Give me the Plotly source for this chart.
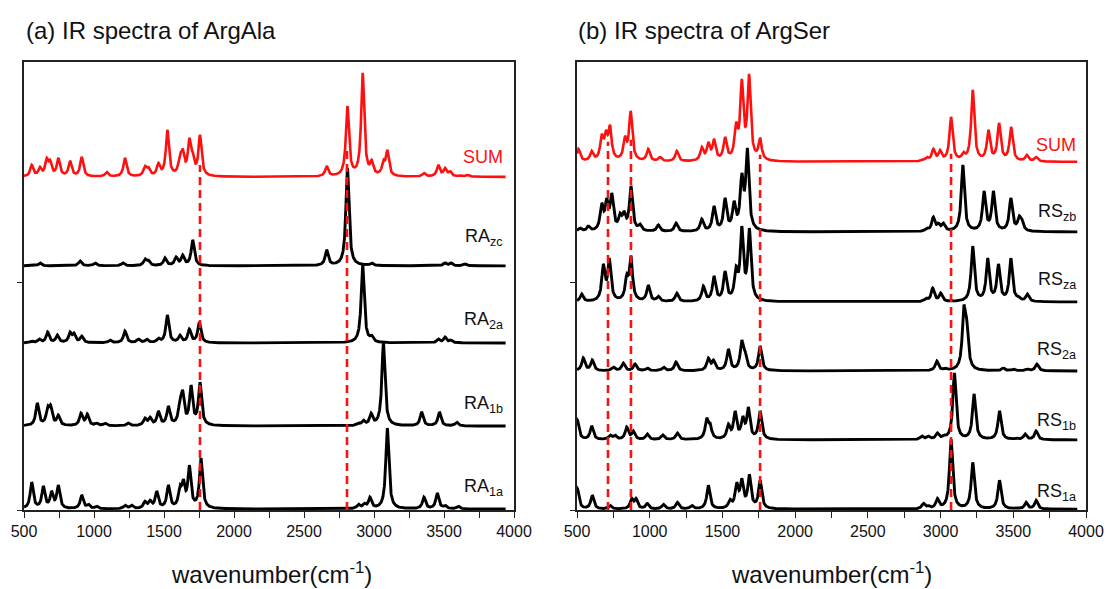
import numpy as np
import plotly.graph_objects as go

# ---------------- data ----------------
# Peak lists: wavenumber (cm-1) and peak height (a.u., 227.5 a.u. = one y tick)
# ArgAla panel
ala_sum_pos = [555, 614, 662, 686, 745, 829, 912, 1090, 1221, 1364, 1388, 1460, 1524, 1614, 1634, 1681, 1705, 1757,
               2662, 2810, 2919, 2983, 3067, 3095, 3357, 3459, 3507, 3543, 3614, 3671]
ala_sum_h = [12, 10, 19, 17, 19, 16, 20, 5, 19, 11, 10, 14, 47, 24, 28, 39, 25, 42,
             11, 71, 104, 17, 17, 27, 4, 12, 9, 6, 2, 2]
ala_zc_pos = [614, 900, 1007, 1207, 1364, 1388, 1507, 1586, 1633, 1705, 2662, 2810, 2983, 3507, 3550, 3650]
ala_zc_h = [3, 5, 3, 3, 7, 6, 8, 9, 11, 26, 16, 98, 3, 3, 3, 2]
ala_2a_pos = [555, 609, 669, 738, 829, 857, 912, 1114, 1221, 1317, 1376, 1460, 1524, 1614, 1681, 1752,
              2919, 2983, 3459, 3507, 3550]
ala_2a_h = [2, 4, 11, 8, 11, 10, 7, 3, 12, 4, 4, 5, 28, 8, 14, 21,
            78, 8, 4, 6, 3]
ala_1b_pos = [595, 669, 690, 745, 907, 952, 1019, 1079, 1245, 1364, 1400, 1460, 1531, 1614, 1633, 1693, 1757,
              2888, 2924, 2979, 3067, 3340, 3467, 3590]
ala_1b_h = [23, 20, 21, 11, 13, 12, 3, 3, 3, 8, 9, 15, 20, 28, 36, 41, 44,
            3, 6, 13, 83, 14, 14, 4]
ala_1a_pos = [555, 638, 697, 745, 912, 960, 1019, 1221, 1269, 1364, 1400, 1448, 1531, 1614, 1638, 1681, 1764,
              2888, 2931, 2971, 3095, 3357, 3452, 3507, 3602]
ala_1a_h = [27, 23, 18, 24, 14, 5, 3, 4, 4, 8, 9, 18, 24, 24, 30, 44, 51,
            5, 6, 12, 81, 12, 16, 4, 3]

# ArgSer panel
ser_sum_pos = [510, 601, 670, 699, 727, 830, 869, 990, 1071, 1186, 1358, 1403, 1442, 1518, 1594, 1633, 1683, 1759,
               2870, 2905, 2950, 2996, 3072, 3157, 3221, 3329, 3402, 3485, 3593, 3657]
ser_sum_h = [13, 11, 28, 32, 37, 26, 51, 13, 5, 11, 15, 20, 23, 25, 40, 83, 88, 24,
             2, 5, 13, 12, 45, 10, 72, 32, 39, 35, 7, 5]
ser_zb_pos = [521, 578, 670, 704, 739, 796, 823, 871, 933, 1059, 1181, 1358, 1442, 1518, 1580, 1633, 1671,
              2905, 2950, 2985, 3019, 3153, 3299, 3363, 3483, 3540, 3558]
ser_zb_h = [4, 6, 29, 34, 39, 19, 21, 46, 8, 7, 9, 13, 26, 34, 31, 59, 84,
            4, 15, 9, 9, 67, 41, 41, 34, 16, 14]
ser_za_pos = [532, 681, 722, 842, 871, 990, 1059, 1186, 1369, 1442, 1518, 1594, 1633, 1685,
              2900, 2946, 3001, 3221, 3324, 3398, 3483, 3535, 3597]
ser_za_h = [8, 38, 44, 28, 46, 17, 6, 9, 16, 26, 31, 36, 76, 74,
            4, 14, 9, 56, 44, 38, 44, 6, 8]
ser_2a_pos = [543, 605, 750, 818, 899, 983, 1094, 1181, 1403, 1438, 1541, 1633, 1656, 1759,
              2974, 3031, 3160, 3180, 3431, 3500, 3597, 3662]
ser_2a_h = [13, 11, 4, 8, 7, 3, 4, 9, 13, 11, 22, 31, 20, 25,
            10, 3, 66, 52, 3, 2, 2, 7]
ser_1b_pos = [502, 601, 727, 761, 842, 887, 983, 1089, 1190, 1392, 1415, 1541, 1587, 1640, 1678, 1759,
              2870, 2916, 2978, 3024, 3095, 3230, 3405, 3519, 3581, 3657]
ser_1b_h = [20, 14, 5, 5, 13, 9, 6, 5, 7, 22, 17, 16, 29, 24, 33, 29,
            4, 4, 7, 5, 67, 46, 29, 2, 6, 9]
ser_1a_pos = [502, 605, 727, 876, 906, 983, 1094, 1190, 1289, 1403, 1552, 1598, 1633, 1685, 1759,
              2882, 2916, 2978, 3072, 3221, 3405, 3524, 3588, 3657]
ser_1a_h = [21, 14, 4, 11, 11, 6, 5, 7, 4, 24, 10, 27, 31, 35, 29,
            6, 4, 11, 70, 47, 29, 2, 7, 9]

ala_names = ["SUM", "RA<sub>zc</sub>", "RA<sub>2a</sub>", "RA<sub>1b</sub>", "RA<sub>1a</sub>"]
ala_offsets = [1.464, 1.073, 0.734, 0.369, 0.004]
ser_names = ["SUM", "RS<sub>zb</sub>", "RS<sub>za</sub>", "RS<sub>2a</sub>", "RS<sub>1b</sub>", "RS<sub>1a</sub>"]
ser_offsets = [1.530, 1.222, 0.914, 0.611, 0.308, 0.003]

# red dashed guide lines: wavenumber and upper end (a.u.)
ala_guides_x = [1757, 2807]
ala_guides_top = [1.516, 1.582]
ser_guides_x = [713, 871, 1759, 3072]
ser_guides_top = [1.618, 1.627, 1.561, 1.566]

tick_vals = list(range(500, 4001, 250))
tick_text = [str(v) if v % 500 == 0 else "" for v in tick_vals]

# ---------------- spectrum construction ----------------
SCALE = 227.5
HWHM = 13.0
wn = np.arange(500.0, 3941.0, 1.0)


def spectrum(pos, hts):
    p = np.asarray(pos, float)
    h = np.asarray(hts, float) / SCALE
    K = 1.0 / (1.0 + ((p[:, None] - p[None, :]) / HWHM) ** 2)
    a = h.copy()
    for _ in range(4000):
        a = np.clip(a + 0.25 * (h - K @ a), 0.0, None)
    return (a[None, :] / (1.0 + ((wn[:, None] - p[None, :]) / HWHM) ** 2)).sum(axis=1)


ala_sets = [(ala_sum_pos, ala_sum_h), (ala_zc_pos, ala_zc_h), (ala_2a_pos, ala_2a_h),
            (ala_1b_pos, ala_1b_h), (ala_1a_pos, ala_1a_h)]
ser_sets = [(ser_sum_pos, ser_sum_h), (ser_zb_pos, ser_zb_h), (ser_za_pos, ser_za_h),
            (ser_2a_pos, ser_2a_h), (ser_1b_pos, ser_1b_h), (ser_1a_pos, ser_1a_h)]

RED = "#FF1010"
fig = go.Figure()

for panel, sets, offs, xa, ya in [(0, ala_sets, ala_offsets, "x", "y"), (1, ser_sets, ser_offsets, "x2", "y2")]:
    for i, ((p, h), off) in enumerate(zip(sets, offs)):
        col = RED if i == 0 else "black"
        fig.add_trace(go.Scatter(x=wn, y=spectrum(p, h) + off, mode="lines",
                                 line=dict(color=col, width=2.9 if i else 2.6),
                                 xaxis=xa, yaxis=ya, showlegend=False, hoverinfo="skip"))

for gx, gt, xa, ya in [(ala_guides_x, ala_guides_top, "x", "y"), (ser_guides_x, ser_guides_top, "x2", "y2")]:
    for x0, top in zip(gx, gt):
        fig.add_trace(go.Scatter(x=[x0, x0], y=[0, top], mode="lines",
                                 line=dict(color=RED, width=2.6, dash="8px,5px"),
                                 xaxis=xa, yaxis=ya, showlegend=False, hoverinfo="skip"))

FONT = "Liberation Sans, Arial, sans-serif"
axis_common = dict(range=[500, 4000], tickvals=tick_vals, ticktext=tick_text, ticks="outside",
                   ticklen=6, tickwidth=1.3, tickcolor="#222", showline=True, linecolor="#222",
                   linewidth=1.8, mirror=True, showgrid=False, zeroline=False, automargin=False,
                   tickfont=dict(family=FONT, size=16, color="#111"))
yaxis_common = dict(range=[0, 1.969], tickvals=[0, 1], ticks="outside", ticklen=5, tickwidth=1.3,
                    tickcolor="#222", showticklabels=False, showline=True, linecolor="#222",
                    linewidth=1.8, mirror=True, showgrid=False, zeroline=False, automargin=False)

ydom = [(589 - 510) / 589, (589 - 62) / 589]
fig.update_layout(
    width=1110, height=589, autosize=False, margin=dict(l=0, r=0, t=0, b=0, pad=0),
    paper_bgcolor="white", plot_bgcolor="white", showlegend=False,
    xaxis=dict(domain=[24 / 1110, 514 / 1110], anchor="y", **axis_common),
    xaxis2=dict(domain=[577 / 1110, 1086 / 1110], anchor="y2", **axis_common),
    yaxis=dict(domain=ydom, anchor="x", **yaxis_common),
    yaxis2=dict(domain=ydom, anchor="x2", **yaxis_common),
)

ann = []
# panel titles
ann.append(dict(text="(a) IR spectra of ArgAla", x=24 / 1110, y=(589 - 30) / 589, xref="paper", yref="paper",
                xanchor="left", yanchor="middle", showarrow=False, font=dict(family=FONT, size=24, color="#111")))
ann.append(dict(text="(b) IR spectra of ArgSer", x=576 / 1110, y=(589 - 30) / 589, xref="paper", yref="paper",
                xanchor="left", yanchor="middle", showarrow=False, font=dict(family=FONT, size=24, color="#111")))
# x-axis titles
for cx in [271, 831]:
    ann.append(dict(text="wavenumber(cm<sup>-1</sup>)", x=cx / 1110, y=(589 - 573) / 589, xref="paper",
                    yref="paper", xanchor="center", yanchor="middle", showarrow=False,
                    font=dict(family=FONT, size=24, color="#111")))
# curve labels
ala_label_px = [157, 238, 321, 405, 487]
for name, ypx, i in zip(ala_names, ala_label_px, range(5)):
    ann.append(dict(text=name, x=3936, y=(510 - ypx) / SCALE, xref="x", yref="y", xanchor="right",
                    yanchor="middle", showarrow=False,
                    font=dict(family=FONT, size=18, color=RED if i == 0 else "#111")))
ser_label_px = [143, 211, 279, 349, 420, 491]
for name, ypx, i in zip(ser_names, ser_label_px, range(6)):
    ann.append(dict(text=name, x=3946, y=(509 - ypx) / 228, xref="x2", yref="y2", xanchor="right",
                    yanchor="middle", showarrow=False,
                    font=dict(family=FONT, size=18, color=RED if i == 0 else "#111")))
fig.update_layout(annotations=ann)

fig.write_html("out.html", config={"displayModeBar": False},
               post_script="document.body.style.margin='0';document.body.style.padding='0';"
                           "document.documentElement.style.overflow='hidden';")
